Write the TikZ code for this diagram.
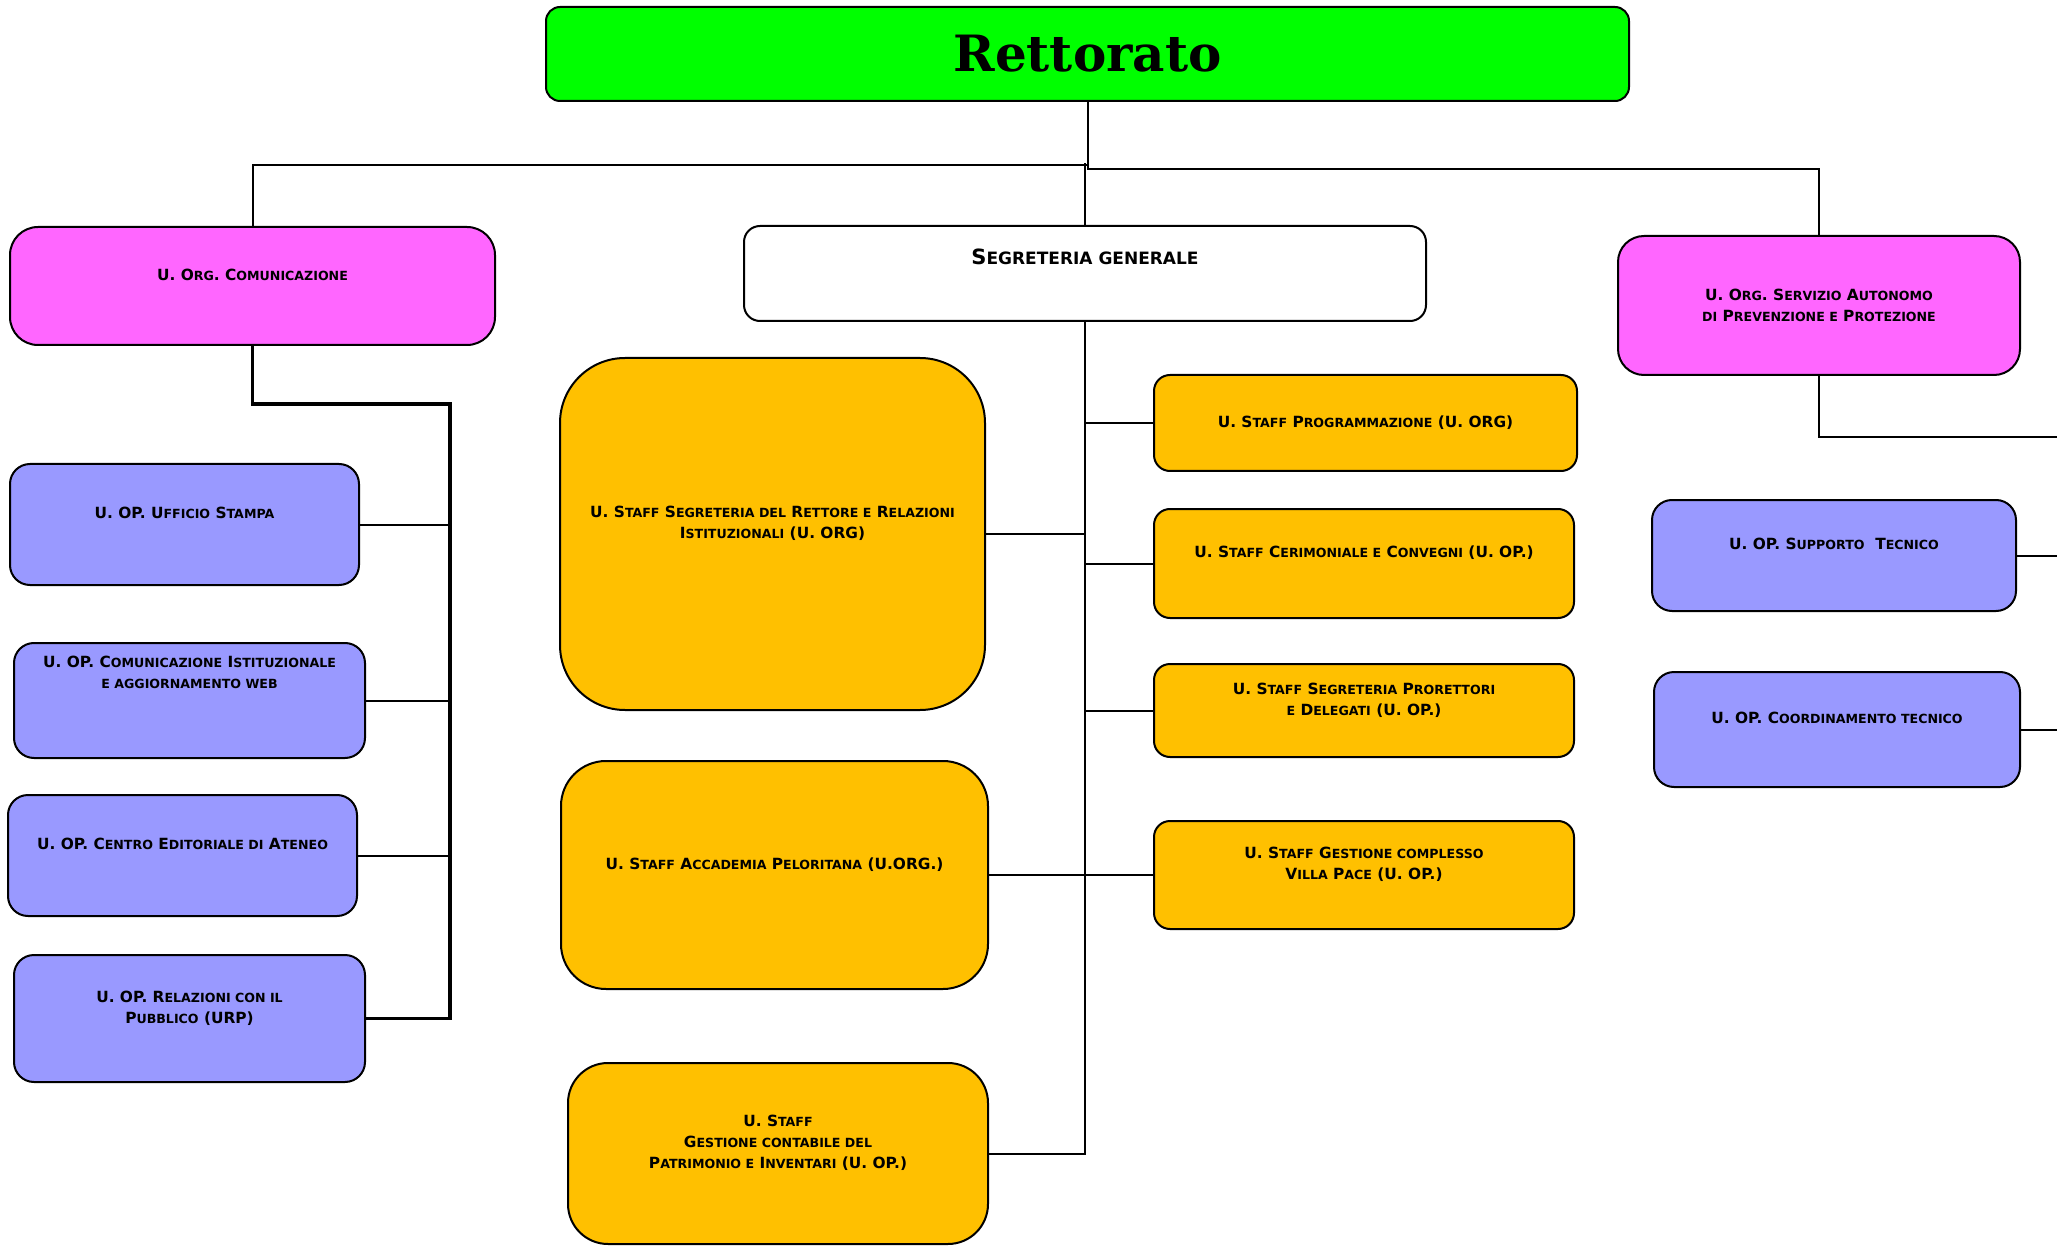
\documentclass[tikz,border=0pt]{standalone}
\usepackage{fontspec}
\setmainfont{DejaVu Sans}
\newfontfamily\rettfont{DejaVu Serif}
\usetikzlibrary{positioning}

\definecolor{rettgreen}{HTML}{00FF00}
\definecolor{orgpink}{HTML}{FF66FF}
\definecolor{opblue}{HTML}{9999FF}
\definecolor{staffyellow}{HTML}{FFC000}

% small caps by hand
\newcommand\smsz{12.6}
\newcommand\sm[1]{{\fontsize{\smsz}{\smsz}\selectfont\MakeUppercase{#1}}}

\tikzset{
  unit/.style={draw, line width=2pt, rounded corners=#1, align=center,
    inner sep=0pt, font=\fontsize{15.4}{21}\selectfont\bfseries},
  unit/.default=20pt,
  wh/.style 2 args={minimum width=#1pt, minimum height=#2pt},
  lifted/.style={execute at end node={\rule[-#1pt]{0pt}{#1pt}}},
  lifted/.default=23,
  conn/.style={line width=2pt},
  bus/.style={line width=3.4pt},
}

\begin{document}
\begin{tikzpicture}[x=1pt, y=-1pt]
  \useasboundingbox (0,0) rectangle (2057,1246);

  % top
  \node[unit=14pt, fill=rettgreen, wh={1083}{94},
    font=\rettfont\bfseries\fontsize{50}{50}\selectfont] (rett) at (1087.5,54) {Rettorato};
  \node[unit=16pt, fill=white, wh={682}{95}, lifted=34,
    font=\fontsize{21}{25}\selectfont\bfseries\renewcommand\smsz{17}] (seg) at (1085,273.5) {S\sm{egreteria generale}};
  \node[unit=28pt, fill=orgpink, wh={485}{118}, lifted] (com) at (252.5,286) {U. O\sm{rg}. C\sm{omunicazione}};
  \node[unit=26pt, fill=orgpink, wh={402}{139}] (sapp) at (1819,305.5)
    {U. O\sm{rg}. S\sm{ervizio} A\sm{utonomo}\\\sm{di} P\sm{revenzione e} P\sm{rotezione}};

  % comunicazione
  \node[unit, fill=opblue, wh={349}{121}, lifted] (stampa) at (184.5,524.5) {U. OP. U\sm{fficio} S\sm{tampa}};
  \node[unit, fill=opblue, wh={351}{115}, lifted=57] (web) at (189.5,700.5)
    {U. OP. C\sm{omunicazione} I\sm{stituzionale}\\\sm{e aggiornamento web}};
  \node[unit, fill=opblue, wh={349}{121}, lifted] (edit) at (182.5,855.5) {U. OP. C\sm{entro} E\sm{ditoriale di} A\sm{teneo}};
  \node[unit, fill=opblue, wh={351}{127}, lifted] (urp) at (189.5,1018.5)
    {U. OP. R\sm{elazioni con il}\\P\sm{ubblico} (URP)};

  % segreteria, left
  \node[unit=65pt, fill=staffyellow, wh={425}{352}, lifted] (rett2) at (772.5,534)
    {U. S\sm{taff} S\sm{egreteria del} R\sm{ettore e} R\sm{elazioni}\\I\sm{stituzionali} (U. ORG)};
  \node[unit=45pt, fill=staffyellow, wh={427}{228}, lifted] (accad) at (774.5,875)
    {U. S\sm{taff} A\sm{ccademia} P\sm{eloritana} (U.ORG.)};
  \node[unit=40pt, fill=staffyellow, wh={420}{181}, lifted] (patr) at (778,1153.5)
    {U. S\sm{taff}\\G\sm{estione contabile del}\\P\sm{atrimonio e} I\sm{nventari} (U. OP.)};

  % segreteria, right
  \node[unit=16pt, fill=staffyellow, wh={423}{96}] (prog) at (1365.5,423)
    {U. S\sm{taff} P\sm{rogrammazione} (U. ORG)};
  \node[unit=16pt, fill=staffyellow, wh={420}{109}, lifted] (cerim) at (1364,563.5)
    {U. S\sm{taff} C\sm{erimoniale e} C\sm{onvegni} (U. OP.)};
  \node[unit=16pt, fill=staffyellow, wh={420}{93}, lifted] (prorett) at (1364,710.5)
    {U. S\sm{taff} S\sm{egreteria} P\sm{rorettori}\\\sm{e} D\sm{elegati} (U. OP.)};
  \node[unit=16pt, fill=staffyellow, wh={420}{108}, lifted] (villa) at (1364,875)
    {U. S\sm{taff} G\sm{estione complesso}\\V\sm{illa} P\sm{ace} (U. OP.)};

  % prevenzione
  \node[unit, fill=opblue, wh={364}{111}, lifted] (supp) at (1834,555.5) {U. OP. S\sm{upporto}\ \ T\sm{ecnico}};
  \node[unit, fill=opblue, wh={366}{115}, lifted] (coord) at (1837,729.5) {U. OP. C\sm{oordinamento tecnico}};

  \coordinate (lbus) at (450,404);
  \coordinate (redge) at (2057,437);

  \draw[conn] (rett.south) -- ++(0,63) -| (com.north);
  \draw[conn] (rett.south) -- ++(0,67) -| (sapp.north);
  \draw[conn] (seg.north) -- ++(0,-62);

  \draw[bus] (com.south) |- (lbus) -- (lbus |- urp.east) -- (urp.east);
  \draw[conn] (stampa.east) -- (stampa.east -| lbus);
  \draw[conn] (web.east) -- (web.east -| lbus);
  \draw[conn] (edit.east) -- (edit.east -| lbus);

  \draw[conn] (seg.south) -- (seg.south |- patr.east) -- (patr.east);
  \draw[conn] (rett2.east) -- (rett2.east -| seg.south);
  \draw[conn] (accad.east) -- (villa.west);
  \draw[conn] (prog.west) -- (prog.west -| seg.south);
  \draw[conn] (cerim.west) -- (cerim.west -| seg.south);
  \draw[conn] (prorett.west) -- (prorett.west -| seg.south);

  \draw[conn] (sapp.south) |- (redge);
  \draw[conn] (supp.east) -- (supp.east -| redge);
  \draw[conn] (coord.east) -- (coord.east -| redge);

\end{tikzpicture}
\end{document}
